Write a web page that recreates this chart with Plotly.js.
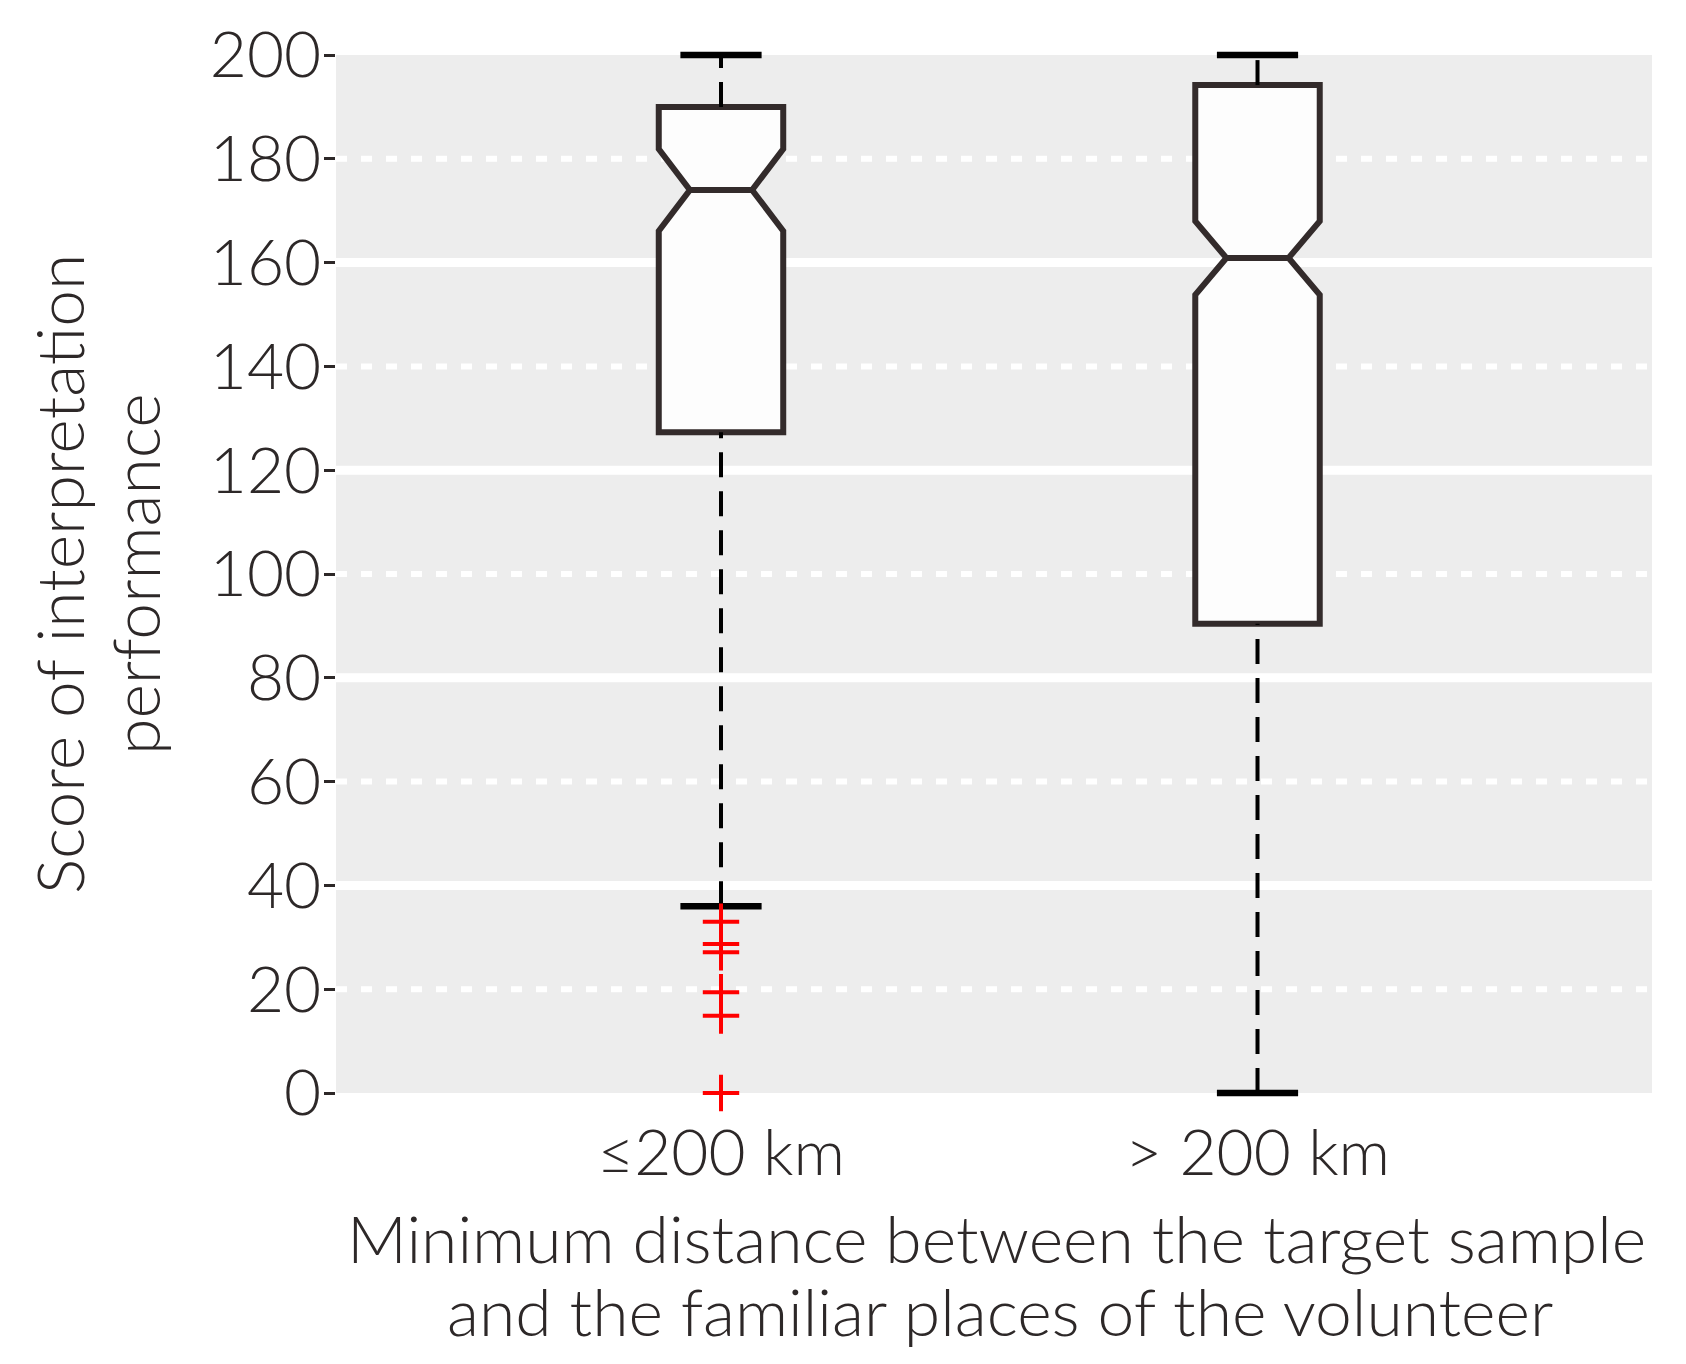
<!DOCTYPE html>
<html>
<head>
<meta charset="utf-8">
<script src="https://cdn.plot.ly/plotly-3.0.1.min.js"></script>
<style>
  html, body { margin: 0; padding: 0; background: #fff; }
  #chart { width: 1686px; height: 1364px; }
</style>
</head>
<body>
<div id="chart"></div>
<script>
// groups along the x axis
const groups = ["≤200 km", "> 200 km"];
const positions = [1, 2];

// box statistics
const q1 = [127.3, 90.4];
const medians = [174.0, 160.9];
const q3 = [190.0, 194.2];
const lowerWhisker = [36.0, 0.0];
const upperWhisker = [200.0, 200.0];
const notchSpan = [7.9, 7.1];

// outliers (only the first group has them)
const outlierGroup = [1, 1, 1, 1, 1, 1];
const outlierScore = [33.0, 28.7, 27.1, 19.4, 14.9, 0.0];

// y ticks / grid
const yTicks = [0, 20, 40, 60, 80, 100, 120, 140, 160, 180, 200];
const gridSolid = [40, 80, 120, 160];
const gridDashed = [20, 60, 100, 140, 180];

const xTitle = ["Minimum distance between the target sample", "and the familiar places of the volunteer"];
const yTitle = ["Score of interpretation", "performance"];

const FONT = "'Segoe UI Light', Lato, 'Open Sans', sans-serif";
const TEXT = "#2d2828";
const EDGE = "#332b2b";
const BOX_W = 0.232;

const traces = [];

// boxes (whiskers drawn separately, dashed)
groups.forEach((g, i) => {
  traces.push({
    type: "box",
    name: g,
    x: [positions[i]],
    q1: [q1[i]],
    median: [medians[i]],
    q3: [q3[i]],
    lowerfence: [q1[i]],
    upperfence: [q3[i]],
    notchspan: [notchSpan[i]],
    notched: true,
    notchwidth: 0.25,
    width: BOX_W,
    whiskerwidth: 0,
    boxpoints: false,
    fillcolor: "#fdfdfd",
    line: {color: EDGE, width: 6},
    hoverinfo: "skip"
  });
});

// whiskers (dashed) and their caps (as markers so they are not clipped)
groups.forEach((g, i) => {
  const p = positions[i];
  traces.push({
    type: "scatter",
    mode: "lines",
    x: [p, p, null, p, p],
    y: [q3[i], upperWhisker[i], null, lowerWhisker[i], q1[i]],
    line: {color: "#000", width: 4, dash: "25px,14px"},
    hoverinfo: "skip"
  });
  traces.push({
    type: "scatter",
    mode: "markers",
    x: [p, p],
    y: [upperWhisker[i], lowerWhisker[i]],
    marker: {symbol: "line-ew", size: 58, line: {color: "#000", width: 6.5}},
    cliponaxis: false,
    hoverinfo: "skip"
  });
});

// outliers
traces.push({
  type: "scatter",
  mode: "markers",
  x: outlierGroup,
  y: outlierScore,
  marker: {symbol: "cross-thin", size: 26, line: {color: "#ff0000", width: 4}},
  cliponaxis: false,
  hoverinfo: "skip"
});

const gridShapes = [];
gridSolid.forEach(v => gridShapes.push({
  type: "line", xref: "paper", x0: 0, x1: 1, yref: "y", y0: v, y1: v,
  layer: "between", line: {color: "#ffffff", width: 9}
}));
gridDashed.forEach(v => gridShapes.push({
  type: "line", xref: "paper", x0: 0, x1: 1, yref: "y", y0: v, y1: v,
  layer: "between", line: {color: "#ffffff", width: 6, dash: "11px,14px"}
}));

const titleFont = {family: FONT, size: 66, color: TEXT, weight: 300};
const annotations = [
  {text: xTitle[0], xref: "paper", yref: "paper", x: 0.5, y: 0, xshift: 2, yshift: -144,
   xanchor: "center", yanchor: "middle", showarrow: false, font: titleFont},
  {text: xTitle[1], xref: "paper", yref: "paper", x: 0.5, y: 0, xshift: 6, yshift: -217,
   xanchor: "center", yanchor: "middle", showarrow: false, font: titleFont},
  {text: yTitle[0], xref: "paper", yref: "paper", x: 0, y: 0.5, xshift: -278, textangle: -90,
   xanchor: "center", yanchor: "middle", showarrow: false, font: titleFont},
  {text: yTitle[1], xref: "paper", yref: "paper", x: 0, y: 0.5, xshift: -202, textangle: -90,
   xanchor: "center", yanchor: "middle", showarrow: false, font: titleFont}
];

const layout = {
  width: 1686,
  height: 1364,
  paper_bgcolor: "#ffffff",
  plot_bgcolor: "#ededed",
  margin: {l: 336, r: 34, t: 55, b: 271},
  showlegend: false,
  font: {family: FONT, color: TEXT, size: 60, weight: 300},
  xaxis: {
    range: [0.2824, 2.7353],
    tickvals: positions,
    ticktext: groups,
    ticks: "",
    ticklabelstandoff: 17,
    showgrid: false,
    zeroline: false,
    showline: false,
    tickfont: {family: FONT, size: 64, color: TEXT, weight: 300},
    automargin: false
  },
  yaxis: {
    range: [0, 200],
    tickvals: yTicks,
    ticks: "outside",
    ticklen: 11,
    tickwidth: 3,
    tickcolor: TEXT,
    ticklabelstandoff: -10,
    showgrid: false,
    zeroline: false,
    showline: false,
    tickfont: {family: FONT, size: 64, color: TEXT, weight: 300},
    automargin: false
  },
  shapes: gridShapes,
  annotations: annotations
};

Plotly.newPlot("chart", traces, layout, {displayModeBar: false, responsive: false});
</script>
</body>
</html>
